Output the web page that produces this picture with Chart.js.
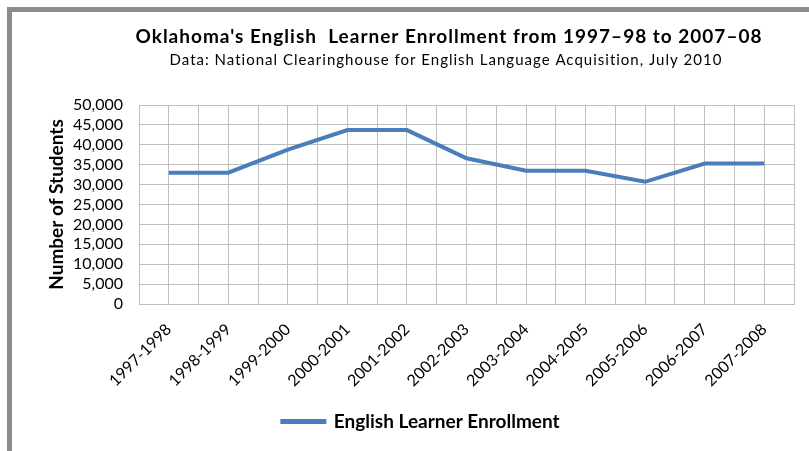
<!DOCTYPE html>
<html>
<head>
<meta charset="utf-8">
<script src="https://cdn.jsdelivr.net/npm/chart.js@4/dist/chart.umd.min.js"></script>
<style>
  body { margin: 0; background: #fff; }
  #frame {
    position: absolute; left: 7px; top: 7px; width: 797px; height: 439px;
    border-left: 5px solid #8c8c8c; border-top: 5px solid #8c8c8c;
    background: #fff;
  }
  #myChart { display: block; }
</style>
</head>
<body>
<div id="frame"><canvas id="myChart" width="797" height="439"></canvas></div>
<script>
const years = ['1997-1998', '1998-1999', '1999-2000', '2000-2001', '2001-2002', '2002-2003',
               '2003-2004', '2004-2005', '2005-2006', '2006-2007', '2007-2008'];
const enrollment = [33000, 33000, 38800, 43700, 43700, 36600, 33500, 33500, 30700, 35300, 35300];
const chartTitle = "Oklahoma's English  Learner Enrollment from 1997\u201398 to 2007\u201308";
const chartSubtitle = 'Data: National Clearinghouse for English Language Acquisition, July 2010';

const FONT = 'Lato, "Open Sans", sans-serif';

// excel-style title, drawn a bit right of the canvas centre
const headerPlugin = {
    id: 'header',
    afterLayout(chart) {
        // legend sits a little right of centre in the original
        chart.legend.left += 18;
        chart.legend.right += 18;
    },
    afterDraw(chart) {
        const c = chart.ctx;
        c.save();
        c.fillStyle = '#000';
        c.textAlign = 'center';
        c.textBaseline = 'middle';
        c.letterSpacing = '1px';
        c.font = 'bold 19px ' + FONT;
        c.fillText(chartTitle, 437, 25);
        c.font = '15px ' + FONT;
        c.fillText(chartSubtitle, 434, 48);
        c.restore();
    }
};

const ctx = document.getElementById('myChart').getContext('2d');
const lineChart = new Chart(ctx, {
    type: 'line',
    data: {
        labels: years,
        datasets: [{
            label: 'English Learner Enrollment',
            data: enrollment,
            borderColor: '#4a7ebb',
            backgroundColor: '#4a7ebb',
            borderWidth: 4,
            pointRadius: 0,
            tension: 0
        }]
    },
    options: {
        responsive: false,
        animation: false,
        layout: { padding: { top: 93, right: 15, bottom: 10, left: 0 } },
        plugins: {
            legend: {
                position: 'bottom',
                labels: {
                    boxWidth: 42,
                    boxHeight: 1,
                    padding: 10,
                    color: '#000',
                    font: { family: FONT, size: 19, weight: 'bold' }
                }
            },
            tooltip: { enabled: false }
        },
        scales: {
            x: {
                offset: true,
                grid: { offset: true, color: '#bfbfbf', drawTicks: false },
                border: { color: '#bfbfbf' },
                ticks: {
                    color: '#000',
                    maxRotation: 45,
                    minRotation: 45,
                    padding: 16,
                    autoSkip: false,
                    font: { family: FONT, size: 16 }
                },
                afterFit(scale) { scale.height = 98; }
            },
            // second category axis only to get the gridlines through each category centre
            x2: {
                type: 'category',
                labels: years,
                offset: true,
                position: 'bottom',
                grid: { offset: false, color: '#bfbfbf', drawTicks: false },
                border: { display: false },
                ticks: { display: false },
                afterFit(scale) { scale.height = 0; }
            },
            y: {
                min: 0,
                max: 50000,
                grid: { color: '#bfbfbf', drawTicks: false },
                border: { color: '#bfbfbf' },
                ticks: {
                    stepSize: 5000,
                    autoSkip: false,
                    padding: 16,
                    color: '#000',
                    font: { family: FONT, size: 16 },
                    callback: (v) => v.toLocaleString('en-US')
                },
                title: {
                    display: true,
                    text: 'Number of Students',
                    color: '#000',
                    padding: { top: 33, bottom: 0 },
                    font: { family: FONT, size: 19, weight: 'bold' }
                },
                afterFit(scale) { scale.width = 127; }
            }
        }
    },
    plugins: [headerPlugin]
});
</script>
</body>
</html>
